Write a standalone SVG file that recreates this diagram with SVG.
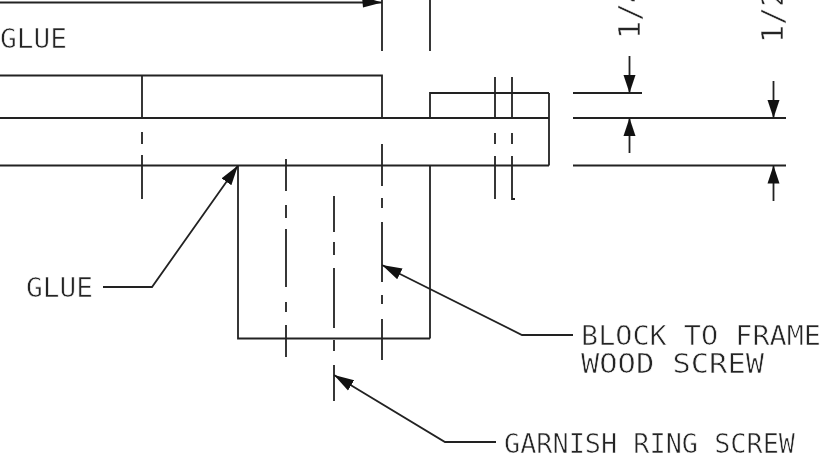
<svg xmlns="http://www.w3.org/2000/svg" width="823" height="461" viewBox="0 0 823 461">
<style>
.l{fill:none;stroke:#222;stroke-width:1.8}
.t{font-family:"DejaVu Sans Mono","Liberation Mono",monospace;font-size:27px;fill:#222;stroke:#fff;stroke-width:.6}
.r{font-size:30px}
</style>
<defs>
<marker id="a" markerUnits="userSpaceOnUse" markerWidth="20" markerHeight="14" refX="18" refY="6.5" orient="auto"><path d="M0 0.5L18 6.5L0 12.5Z" fill="#111"/></marker>
<marker id="b" markerUnits="userSpaceOnUse" markerWidth="22" markerHeight="14" refX="20" refY="6.5" orient="auto"><path d="M0 0.5L20 6.5L0 12.5Z" fill="#111"/></marker>
</defs>
<rect width="823" height="461" fill="#fff"/>
<g id="section" class="l">
<path d="M0 75.5H382V118M142 75.5V118M0 118H549M0 165.5H549M549 93V165.5M430 118V93H549M430 165.5V338.5M238 165.5V338.5H430"/>
</g>
<g id="centerlines" class="l">
<path d="M142 132V144M142 155V199"/>
<path d="M382 0V51M430 0V51M382 144V186M382 198V208M382 222V282M382 295V304M382 319V360"/>
<path d="M286 159V191M286 205V218M286 229V287M286 302V312M286 325V357"/>
<path d="M334 196V232M334 242V255M334 268V328M334 340V351M334 365V401"/>
<path d="M495 77V118M495 133V144M495 156V199"/>
<path d="M512 77V118M512 133V144M512 156V199H515"/>
</g>
<g id="connectors" class="l">
<path d="M0 2.5H382"/>
<path d="M573 93H642M573 118H786M573 165.5H786"/>
<path d="M629.5 56V93" marker-end="url(#a)"/>
<path d="M629.5 153V118" marker-end="url(#a)"/>
<path d="M773.5 81V118" marker-end="url(#a)"/>
<path d="M773.5 201V165.5" marker-end="url(#a)"/>
<path d="M103 287H152L238 165.5" marker-end="url(#b)"/>
<path d="M573 335H522L382 265" marker-end="url(#b)"/>
<path d="M496 442H445L334 375" marker-end="url(#b)"/>
<path d="M362 -3.5L382 2.5L363 7.5Z" fill="#111" stroke="none"/>
</g>
<g id="labels" opacity=".99">
<text class="t" x="0" y="48" textLength="67" lengthAdjust="spacingAndGlyphs">GLUE</text>
<text class="t" x="26" y="297" textLength="67" lengthAdjust="spacingAndGlyphs">GLUE</text>
<text class="t" x="581" y="345" textLength="240" lengthAdjust="spacingAndGlyphs">BLOCK TO FRAME</text>
<text class="t" x="581" y="373" textLength="183" lengthAdjust="spacingAndGlyphs">WOOD SCREW</text>
<text class="t" x="504" y="453" textLength="291" lengthAdjust="spacingAndGlyphs">GARNISH RING SCREW</text>
<text class="t r" transform="translate(640 39) rotate(-90)">1/4</text>
<text class="t r" transform="translate(783 43) rotate(-90)">1/2</text>
</g>
</svg>
